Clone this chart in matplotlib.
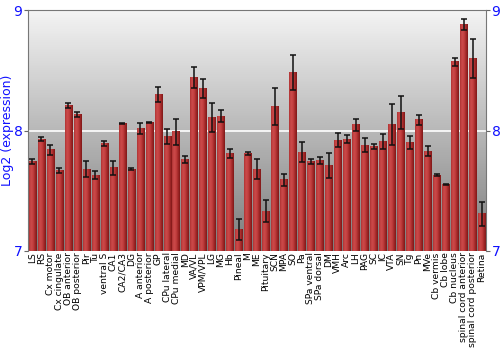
import numpy as np
import matplotlib
matplotlib.use("Agg")
import matplotlib.pyplot as plt
from matplotlib.colors import LinearSegmentedColormap

# tissue names
tissues = ['LS', 'RS', 'Cx motor', 'Cx cingulate', 'OB anterior', 'OB posterior',
           'Pir', 'Tu', 'ventral S', 'CA1', 'CA2/CA3', 'DG', 'A anterior',
           'A posterior', 'GP', 'CPu lateral', 'CPu medial', 'MD', 'VA/VL',
           'VPM/VPL', 'LG', 'MG', 'Hb', 'Pineal', 'M', 'ME', 'Pituitary', 'SCN',
           'MPA', 'SO', 'Pa', 'SPa ventral', 'SPa dorsal', 'DM', 'VMH', 'Arc',
           'LH', 'PAG', 'SC', 'IC', 'VTA', 'SN', 'Tg', 'Pn', 'MVe', 'Cb vermis',
           'Cb lobe', 'Cb nucleus', 'spinal cord anterior',
           'spinal cord posterior', 'Retina']

# log2 expression (mean)
expr = [7.74, 7.93, 7.84, 7.67, 8.21, 8.13, 7.68, 7.63, 7.89, 7.69, 8.06, 7.68,
        8.02, 8.07, 8.30, 7.95, 7.99, 7.76, 8.44, 8.35, 8.11, 8.12, 7.81, 7.18,
        7.81, 7.68, 7.33, 8.20, 7.59, 8.48, 7.82, 7.74, 7.75, 7.71, 7.92, 7.93,
        8.05, 7.88, 7.87, 7.91, 8.05, 8.15, 7.90, 8.09, 7.83, 7.63, 7.55, 8.57,
        8.88, 8.60, 7.31]

# error (+/-)
err = [0.02, 0.02, 0.04, 0.02, 0.02, 0.02, 0.065, 0.035, 0.02, 0.06, 0.004, 0.01,
       0.045, 0.005, 0.065, 0.06, 0.11, 0.03, 0.09, 0.08, 0.12, 0.05, 0.04, 0.085,
       0.015, 0.08, 0.09, 0.155, 0.05, 0.145, 0.085, 0.02, 0.03, 0.1, 0.06, 0.03,
       0.05, 0.055, 0.02, 0.065, 0.17, 0.135, 0.055, 0.04, 0.04, 0.01, 0.005,
       0.03, 0.045, 0.16, 0.1]

ymin, ymax = 7, 9
x = np.arange(len(tissues))
w = 0.82

fig = plt.figure(figsize=(5, 3.5), dpi=100)
ax = fig.add_axes([0.056, 0.283, 0.916, 0.688])

# gray gradient background
bg = LinearSegmentedColormap.from_list('bg', ['#7c7c7c', '#b8b8b8', '#f4f4f4'])
ax.imshow(np.linspace(0, 1, 256).reshape(-1, 1), aspect='auto', cmap=bg,
          extent=(-0.5, len(tissues) - 0.5, ymin, ymax), origin='lower', zorder=0)
ax.axhline(8, color='white', lw=1.2, zorder=1)

# bars with cylindrical shading
shade = LinearSegmentedColormap.from_list(
    'shade', ['#b03434', '#cc4a4a', '#c44040', '#a42a2a', '#801818'])
grad = np.linspace(0, 1, 32).reshape(1, -1)
ax.bar(x, np.array(expr) - ymin, bottom=ymin, width=w, color='none', zorder=2)
for xi, v in zip(x, expr):
    ax.imshow(grad, aspect='auto', cmap=shade, zorder=2,
              extent=(xi - w / 2, xi + w / 2, ymin, v))
ax.set_xlim(-0.5, len(tissues) - 0.5)
ax.set_ylim(ymin, ymax)

ax.errorbar(x, expr, yerr=err, fmt='none', ecolor='#111111', elinewidth=1.1,
            capsize=2.5, capthick=1.1, zorder=3)

ax.set_xticks(x)
ax.set_xticklabels(tissues, rotation=90, fontsize=6.6)
ax.tick_params(axis='x', length=0, pad=1)
ax.set_yticks([7, 8, 9])
ax.tick_params(axis='y', colors='#1010ff', labelsize=10, length=3,
               left=True, right=True, labelleft=True, labelright=True,
               color='#666666', pad=1)
ax.set_ylabel('Log2 (expression)', color='#1010ff', fontsize=9, labelpad=0)

for s in ['top', 'left', 'right']:
    ax.spines[s].set_color('#777777')
ax.spines['bottom'].set_visible(False)

fig.savefig('out.png', dpi=100)
